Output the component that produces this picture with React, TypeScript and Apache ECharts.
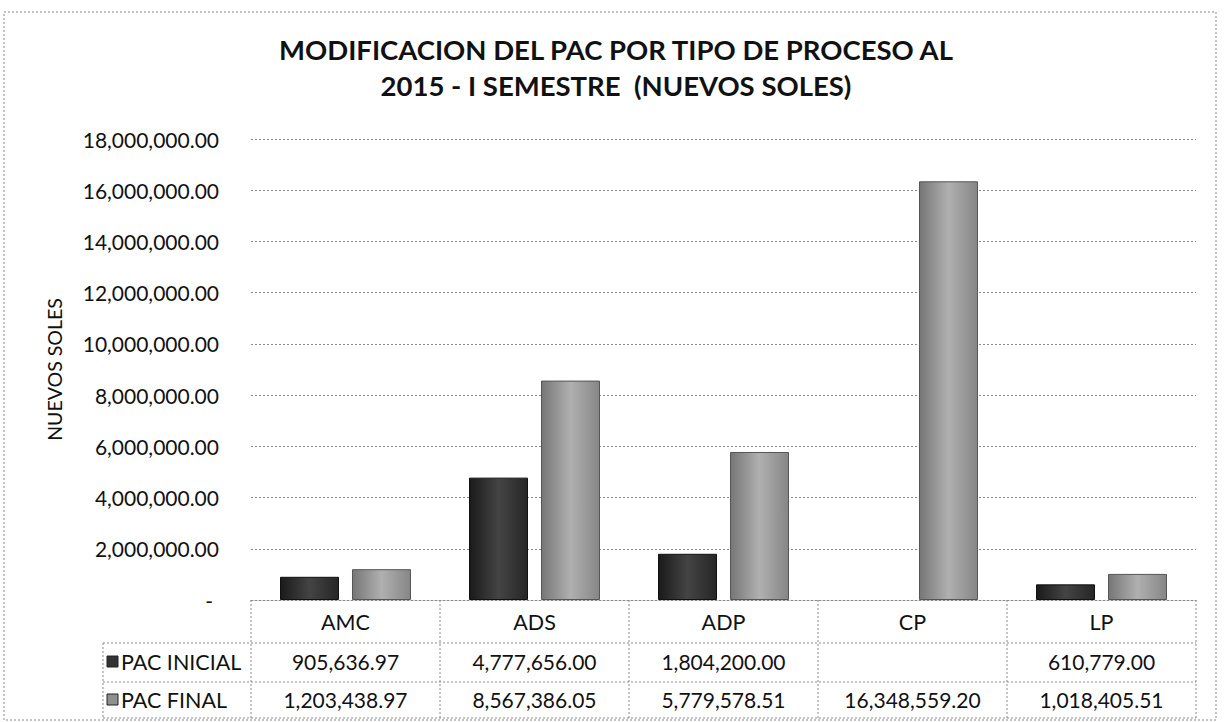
import React, { useEffect, useRef } from "react";
import * as echarts from "echarts";

const categories = ["AMC", "ADS", "ADP", "CP", "LP"];
const pacInicial: (number | null)[] = [905636.97, 4777656.0, 1804200.0, null, 610779.0];
const pacFinal: number[] = [1203438.97, 8567386.05, 5779578.51, 16348559.2, 1018405.51];
const seriesNames = ["PAC INICIAL", "PAC FINAL"];
const titleLines = ["MODIFICACION DEL PAC POR TIPO DE PROCESO AL", "2015 - I SEMESTRE  (NUEVOS SOLES)"];
const yAxisName = "NUEVOS SOLES";
const yMin = 0;
const yMax = 18000000;
const yInterval = 2000000;

const fmt = (v: number | null) =>
  v == null
    ? ""
    : v.toLocaleString("en-US", { minimumFractionDigits: 2, maximumFractionDigits: 2 });

const FONT = "Lato, 'Open Sans', sans-serif";

export default function App() {
  const ref = useRef<HTMLDivElement>(null);
  useEffect(() => {
    if (!ref.current) return;
    const chart = echarts.init(ref.current, null, { renderer: "svg" });
    const gl = 251;
    const gr = 1196;
    const gt = 139;
    const gb = 600;
    const cw = (gr - gl) / categories.length;
    const dot = { stroke: "#8a8a8a", lineWidth: 1, lineDash: [2, 2] };
    const rowLines = [643, 682, 718];
    const graphics: any[] = [
      {
        type: "rect",
        shape: { x: 4, y: 12, width: 1212, height: 708 },
        style: { fill: "none", stroke: "#b0b0b0", lineWidth: 1.5, lineDash: [2, 2] },
        silent: true,
      },
    ];
    titleLines.forEach((t, i) => {
      graphics.push({
        type: "text",
        x: 616,
        y: 49 + i * 36,
        style: {
          text: t,
          fontFamily: FONT,
          fontWeight: "bold",
          fontSize: 27.5,
          fill: "#111",
          textAlign: "center",
          textVerticalAlign: "middle",
        },
      });
    });
    rowLines.forEach((y) => {
      graphics.push({ type: "line", shape: { x1: 103, y1: y, x2: gr, y2: y }, style: dot });
    });
    graphics.push({ type: "line", shape: { x1: 103, y1: rowLines[0], x2: 103, y2: rowLines[2] }, style: dot });
    for (let i = 0; i <= categories.length; i++) {
      const x = gl + cw * i;
      graphics.push({ type: "line", shape: { x1: x, y1: gb, x2: x, y2: rowLines[2] }, style: dot });
    }
    seriesNames.forEach((n, i) => {
      const y = 662 + i * 38;
      graphics.push({
        type: "rect",
        shape: { x: 107, y: y - 6, width: 11, height: 11 },
        style: { fill: i === 0 ? "#333" : "#8f8f8f", stroke: "#222", lineWidth: 1 },
      });
      graphics.push({
        type: "text",
        x: 121,
        y,
        style: {
          text: n,
          fontFamily: FONT,
          fontSize: 21.5,
          fill: "#111",
          textAlign: "left",
          textVerticalAlign: "middle",
        },
      });
    });

    const rowAxis = (offset: number, values: (number | null)[]) => ({
      type: "category",
      data: categories,
      gridIndex: 0,
      position: "bottom",
      offset,
      axisLine: { show: false },
      axisTick: { show: false },
      splitLine: { show: false },
      axisLabel: {
        interval: 0,
        margin: 11,
        fontFamily: FONT,
        fontSize: 21,
        color: "#111",
        formatter: (_v: string, idx: number) => fmt(values[idx]),
      },
    });

    chart.setOption({
      animation: false,
      backgroundColor: "#fff",
      grid: { left: gl, right: 1230 - gr, top: gt, bottom: 722 - gb, containLabel: false },
      xAxis: [
        {
          type: "category",
          data: categories,
          axisLine: { show: true, lineStyle: { color: "#8a8a8a", type: [2, 2] } },
          axisTick: { show: false },
          axisLabel: { interval: 0, margin: 11, fontFamily: FONT, fontSize: 21.5, color: "#111" },
        },
        rowAxis(40, pacInicial),
        rowAxis(78, pacFinal),
      ],
      yAxis: {
        type: "value",
        min: yMin,
        max: yMax,
        interval: yInterval,
        name: yAxisName,
        nameLocation: "middle",
        nameRotate: 90,
        nameGap: 187,
        nameTextStyle: { fontFamily: FONT, fontSize: 19.5, color: "#111" },
        axisLine: { show: false },
        axisTick: { show: false },
        splitLine: { lineStyle: { color: "#8a8a8a", type: [2, 2] } },
        axisLabel: {
          margin: 32,
          fontFamily: FONT,
          fontSize: 21,
          color: "#111",
          formatter: (v: number) => (v === 0 ? "{d|-}" : fmt(v)),
          rich: { d: { fontFamily: FONT, fontSize: 21, color: "#111", padding: [0, 6, 0, 0] } },
        },
      },
      series: [
        {
          name: seriesNames[0],
          type: "bar",
          data: pacInicial,
          barWidth: 59,
          barGap: "22%",
          itemStyle: {
            color: new echarts.graphic.LinearGradient(0, 0, 1, 0, [
              { offset: 0, color: "#1a1a1a" },
              { offset: 0.5, color: "#444" },
              { offset: 1, color: "#262626" },
            ]),
            borderColor: "#111",
            borderWidth: 1,
          },
        },
        {
          name: seriesNames[1],
          type: "bar",
          data: pacFinal,
          barWidth: 59,
          itemStyle: {
            color: new echarts.graphic.LinearGradient(0, 0, 1, 0, [
              { offset: 0, color: "#767676" },
              { offset: 0.5, color: "#b0b0b0" },
              { offset: 1, color: "#868686" },
            ]),
            borderColor: "#555",
            borderWidth: 1,
          },
        },
      ],
      graphic: graphics,
    });
    return () => chart.dispose();
  }, []);
  return (
    <div
      ref={ref}
      style={{ position: "fixed", left: 0, top: 0, width: 1230, height: 722, background: "#fff" }}
    />
  );
}
